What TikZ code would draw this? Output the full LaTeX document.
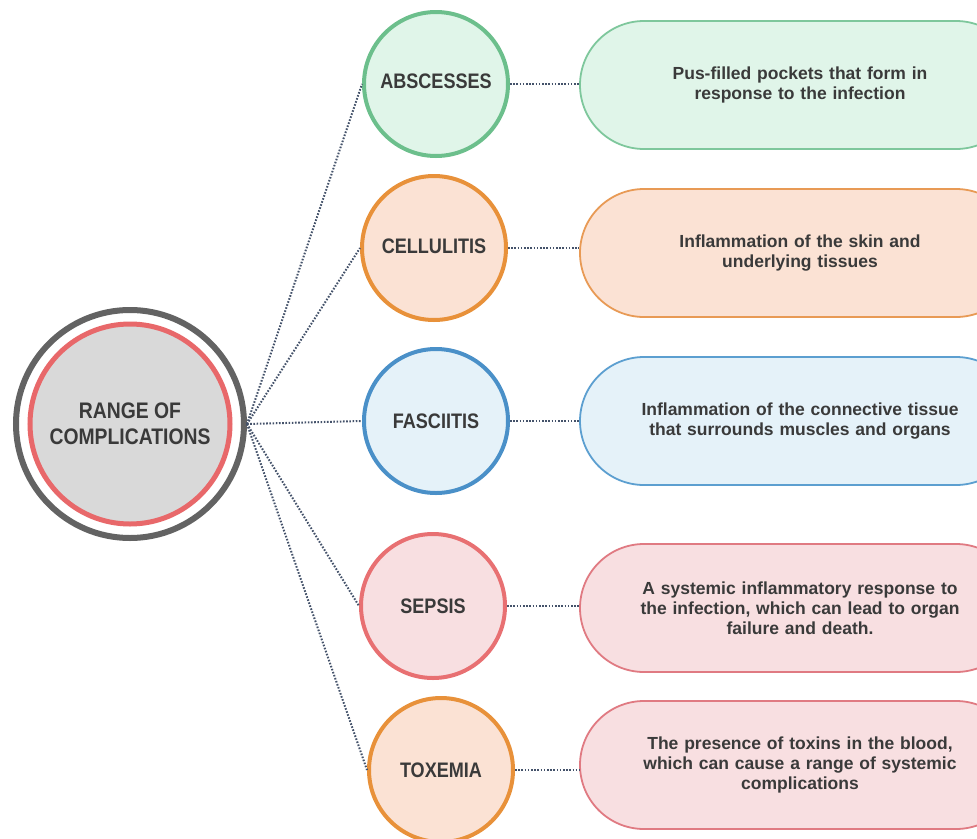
\documentclass[tikz,border=0pt]{standalone}
\usepackage{fontspec}
\setmainfont{Liberation Sans}
\newfontfamily\condfont[FakeStretch=0.86]{Liberation Sans}
\definecolor{txt}{HTML}{3A3A3A}
\definecolor{lineblue}{HTML}{44526A}
\definecolor{ringgray}{HTML}{636363}
\definecolor{ringred}{HTML}{E8686A}
\definecolor{centerfill}{HTML}{D9D9D9}
\definecolor{gstroke}{HTML}{6CBF8C}
\definecolor{gfill}{HTML}{E0F5E9}
\definecolor{gbox}{HTML}{7EC79C}
\definecolor{ostroke}{HTML}{E8913A}
\definecolor{ofill}{HTML}{FBE2D4}
\definecolor{obox}{HTML}{E89A55}
\definecolor{bstroke}{HTML}{4A90C8}
\definecolor{bfill}{HTML}{E5F2F9}
\definecolor{bbox}{HTML}{5C9FD0}
\definecolor{rstroke}{HTML}{E87072}
\definecolor{rfill}{HTML}{F8DFE1}
\definecolor{rbox}{HTML}{E07A82}
\tikzset{
  conn/.style={draw=lineblue, line width=2pt, dash pattern=on 1.6pt off 1.6pt},
  bubble/.style={circle, minimum size=144, inner sep=0pt, line width=4pt,
    font=\condfont\fontsize{21}{22}\selectfont\bfseries, text=txt},
  pill/.style={rectangle, rounded corners=64pt, minimum width=440, minimum height=128,
    line width=1.8pt, text width=340, align=center, inner sep=0pt,
    font=\fontsize{17.5}{20}\selectfont\bfseries, text=txt}
}
\begin{document}
\begin{tikzpicture}[x=1pt,y=-1pt]
\useasboundingbox (0,0) rectangle (977,838);
\clip (0,0) rectangle (977,838);
\fill[white] (0,0) rectangle (977,838);

% central
\node[circle, minimum size=228, inner sep=0pt, draw=ringgray, line width=6pt, fill=white] (c) at (130,424) {};
\node[circle, minimum size=200, inner sep=0pt, draw=ringred, line width=5pt, fill=centerfill,
  align=center, text=txt, font=\condfont\fontsize{22.5}{26}\selectfont\bfseries] (ci) at (130,424) {RANGE OF\\COMPLICATIONS};

% bubbles
\node[bubble, draw=gstroke, fill=gfill] (abs) at (436,84) {\raisebox{6pt}{ABSCESSES}};
\node[bubble, draw=ostroke, fill=ofill] (cel) at (434,248) {\raisebox{3pt}{CELLULITIS}};
\node[bubble, draw=bstroke, fill=bfill] (fas) at (436,421) {FASCIITIS};
\node[bubble, draw=rstroke, fill=rfill] (sep) at (433,606) {SEPSIS};
\node[bubble, draw=ostroke, fill=ofill] (tox) at (441,770) {TOXEMIA};

% pills
\node[pill, draw=gbox, fill=gfill] (absbox) at (800,85) {\raisebox{4pt}{\parbox{340pt}{\centering Pus-filled pockets that form in\\response to the infection}}};
\node[pill, draw=obox, fill=ofill] (celbox) at (800,253) {Inflammation of the skin and\\underlying tissues};
\node[pill, draw=bbox, fill=bfill] (fasbox) at (800,421) {\raisebox{2pt}{\parbox{340pt}{\centering Inflammation of the connective tissue\\that surrounds muscles and organs}}};
\node[pill, draw=rbox, fill=rfill] (sepbox) at (800,608) {\raisebox{6pt}{\parbox{340pt}{\centering A systemic inflammatory response to\\the infection, which can lead to organ\\failure and death.}}};
\node[pill, draw=rbox, fill=rfill] (toxbox) at (800,765) {The presence of toxins in the blood,\\which can cause a range of systemic\\complications};

% connectors from centre
\foreach \n in {abs,cel,fas,sep,tox}{
  \draw[conn] (c.east) -- (\n.west);
  \draw[conn] (\n.east) -- (\n.east -| \n box.west);
}
\end{tikzpicture}
\end{document}
